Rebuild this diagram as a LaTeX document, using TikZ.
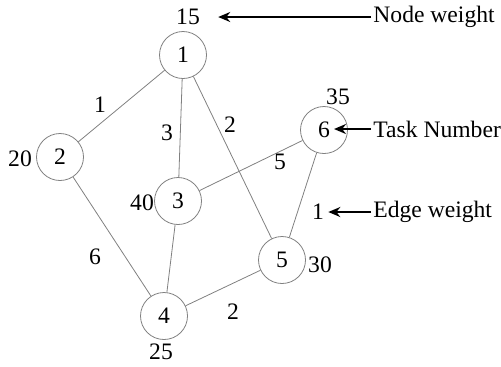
\documentclass[tikz,border=0pt]{standalone}
\usepackage{fontspec}
\setmainfont{Liberation Serif}
\usetikzlibrary{positioning,arrows.meta}

\begin{document}
\begin{tikzpicture}[
    x=0.5pt, y=-0.5pt,
    every node/.style={font=\fontsize{11.8}{13}\selectfont, inner sep=1pt},
    task/.style={circle, draw=gray, line width=0.4pt, minimum size=23.5pt, inner sep=0pt},
    edge/.style={draw=gray, line width=0.4pt},
    pointer/.style={-{Stealth[length=6pt, width=5pt]}, line width=1pt, draw=black}
]
    \useasboundingbox (0,0) rectangle (501,366);

    % Tasks
    \node[task] (t1) at (183,55) {1};
    \node[task] (t2) at (60,157) {2};
    \node[task] (t3) at (178,201) {3};
    \node[task] (t4) at (164,316) {4};
    \node[task] (t5) at (282,260) {5};
    \node[task] (t6) at (324,130) {6};

    % Node weights
    \node (w1) at (188,17) {15};
    \node (w2) at (20,159) {20};
    \node (w3) at (142,203) {40};
    \node (w4) at (161,352) {25};
    \node (w5) at (320,265) {30};
    \node (w6) at (338,97) {35};

    % Edges
    \draw[edge] (t1) -- (t2);
    \draw[edge] (t1) -- (t3);
    \draw[edge] (t1) -- (t5);
    \draw[edge] (t2) -- (t4);
    \draw[edge] (t3) -- (t4);
    \draw[edge] (t3) -- (t6);
    \draw[edge] (t4) -- (t5);
    \draw[edge] (t5) -- (t6);

    % Edge weights
    \node (e12) at (100,105) {1};
    \node (e13) at (167,133) {3};
    \node (e15) at (230,125) {2};
    \node (e36) at (280,162) {5};
    \node (e24) at (95,257) {6};
    \node (e45) at (233,312) {2};
    \node (e56) at (318,212) {1};

    % Legend
    \node[anchor=west] (lnw) at (371,17) {Node weight};
    \node[anchor=west] (ltn) at (371,129) {Task Number};
    \node[anchor=west] (lew) at (371,212) {Edge weight};

    \draw[pointer, shorten >=8pt] (lnw.west) -- (lnw.west -| w1.east);
    \draw[pointer, shorten >=5pt] (ltn.west) -- (ltn.west -| t6.center);
    \draw[pointer, shorten >=1pt] (lew.west) -- (lew.west -| e56.east);
\end{tikzpicture}
\end{document}
